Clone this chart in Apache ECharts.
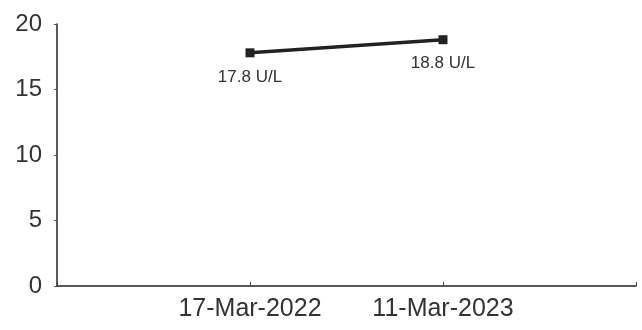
<!DOCTYPE html>
<html>
<head>
<meta charset="utf-8">
<script src="https://cdn.jsdelivr.net/npm/echarts@6/dist/echarts.min.js"></script>
<style>
  html, body { margin: 0; padding: 0; background: #fff; }
  #chart { width: 642px; height: 330px; }
</style>
</head>
<body>
<div id="chart"></div>
<script>
// categories: empty slots at both ends so the points sit where they do in the scan
const categories = ["", "17-Mar-2022", "11-Mar-2023", ""];
const values = [null, 17.8, 18.8, null];
const unit = "U/L";
const yTicks = [0, 5, 10, 15, 20];

var chart = echarts.init(document.getElementById("chart"));

let option = {
  animation: false,
  grid: { left: 57, right: 6, top: 24, bottom: 44 },
  xAxis: {
    type: "category",
    data: categories,
    boundaryGap: false,
    axisLine: { lineStyle: { color: "#222", width: 1.5 } },
    axisTick: { inside: true, length: 4, lineStyle: { color: "#444" } },
    axisLabel: {
      color: "#333",
      fontSize: 25,
      fontFamily: "Liberation Sans, Arial, sans-serif",
      margin: 11,
      interval: 0,
    },
    splitLine: { show: false },
  },
  yAxis: {
    type: "value",
    min: yTicks[0],
    max: yTicks[yTicks.length - 1],
    interval: 5,
    axisLine: { show: true, lineStyle: { color: "#222", width: 1.5 } },
    axisTick: { show: true, length: 3, lineStyle: { color: "#555" } },
    axisLabel: {
      color: "#333",
      fontSize: 24,
      fontFamily: "Liberation Sans, Arial, sans-serif",
      margin: 15,
    },
    splitLine: { show: false },
  },
  series: [
    {
      type: "line",
      data: values,
      connectNulls: false,
      symbol: "rect",
      symbolSize: 9,
      lineStyle: { color: "#222", width: 3.5 },
      itemStyle: { color: "#222" },
      label: {
        show: true,
        position: "bottom",
        distance: 11,
        color: "#333",
        fontSize: 17,
        fontFamily: "Liberation Sans, Arial, sans-serif",
        formatter: function (p) {
          return p.value + " " + unit;
        },
      },
    },
  ],
};

chart.setOption(option);
</script>
</body>
</html>
